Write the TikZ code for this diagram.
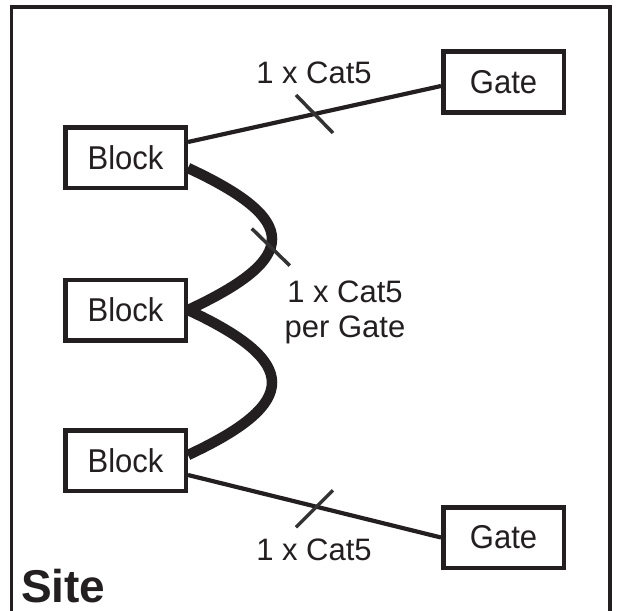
\documentclass[tikz,border=0pt]{standalone}
\usepackage{fontspec}
\setmainfont{Liberation Sans}
\newfontfamily\boxfont[FakeStretch=0.94]{Liberation Sans}
\usetikzlibrary{calc}
\definecolor{ink}{HTML}{231F20}
\definecolor{tickc}{HTML}{333333}
\begin{document}
\begin{tikzpicture}[x=1pt,y=-1pt,
  box/.style={draw=ink,line width=4.5pt,minimum width=120.5pt,minimum height=60.5pt,inner sep=0pt,
    font=\boxfont\fontsize{33}{36}\selectfont,text=ink},
  lbl/.style={font=\fontsize{31}{35}\selectfont,text=ink,anchor=base,inner sep=0pt},
  wire/.style={draw=ink,line width=4.2pt},
  bundle/.style={draw=ink,line width=10.5pt},
  tickmark/.style={draw=tickc,line width=3.5pt}]
\useasboundingbox (0,0) rectangle (618,610);
\clip (0,0) rectangle (618,610);
\fill[white] (0,0) rectangle (618,610);
% frame
\draw[ink,line width=3.2pt] (11.5,640) -- (11.5,7) -- (610,7) -- (610,640);
% nodes
\node[box] (b1) at (125.5,157.5) {Block};
\node[box] (b2) at (125.5,310) {Block};
\node[box] (b3) at (125.5,460.5) {Block};
\node[box] (g1) at (503.5,82) {Gate};
\node[box] (g2) at (503.5,537.5) {Gate};
% connectors
\draw[wire] ([yshift=15.5pt]b1.east) -- coordinate[pos=0.5] (t1) ([yshift=-4pt]g1.west);
\draw[wire] ([yshift=-14.5pt]b3.east) -- coordinate[pos=0.5] (t3) (g2.west);
\draw[bundle] ([yshift=-10.5pt]b1.east) .. controls +(112,52) and +(112,-52) .. coordinate[pos=0.56] (t2) (b2.east);
\draw[bundle] (b2.east) .. controls +(112,52) and +(112,-52) .. ([yshift=5.5pt]b3.east);
% ticks
\draw[tickmark] ($(t1)+(-18.5,-19)$) -- ($(t1)+(18.5,19)$);
\draw[tickmark] ($(t3)+(-18.5,21)$) -- ($(t3)+(18.5,-16)$);
\draw[tickmark] ($(t2)+(-19,-18.5)$) -- ($(t2)+(19,18.5)$);
% labels
\node[lbl] (l1) at (314,83) {1 x Cat5};
\node[lbl] (l2a) at (345,302) {1 x Cat5};
\node[lbl] (l2b) at (345,337) {per Gate};
\node[lbl] (l3) at (314,560) {1 x Cat5};
\node[font=\fontsize{46}{50}\selectfont\bfseries,text=ink,anchor=base west,inner sep=0pt] (site) at (21,602) {Site};
\end{tikzpicture}
\end{document}
